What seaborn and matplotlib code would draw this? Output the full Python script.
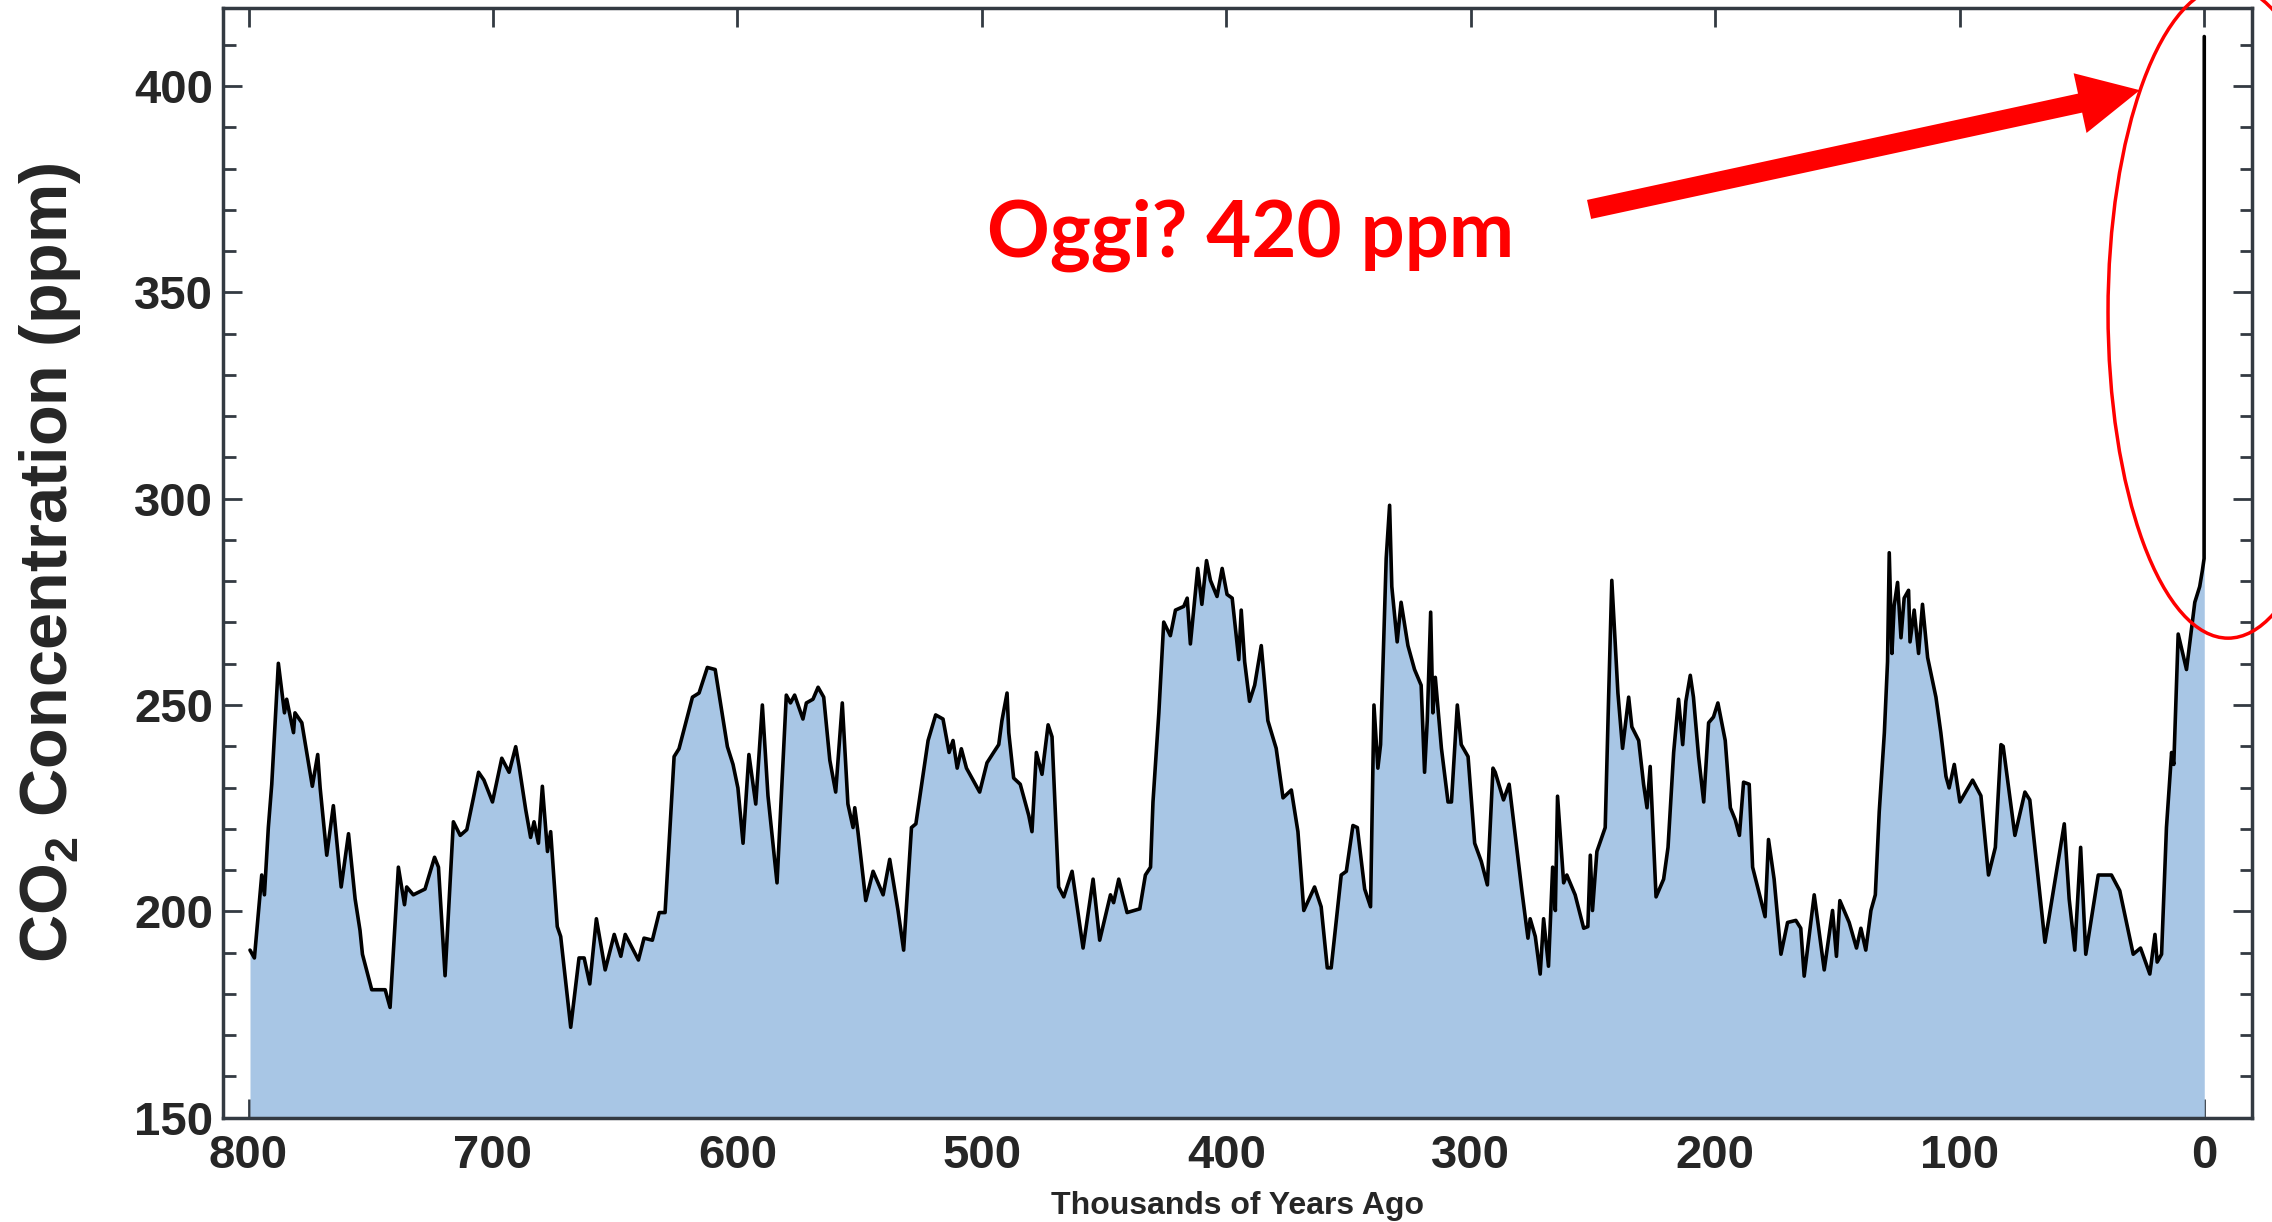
import numpy as np
import matplotlib
matplotlib.use("Agg")
import matplotlib.pyplot as plt
from matplotlib.patches import Ellipse
from matplotlib.ticker import MultipleLocator
import seaborn as sns

# ice core CO2 record (thousands of years ago, ppm)
years_ago = [
    799.4, 797.6, 794.6, 793.5, 791.9, 790.5, 787.8, 785.3, 784.4, 781.6, 781.0, 778.2, 776.2, 773.9,
    771.7, 770.7, 768.0, 765.3, 762.1, 759.1, 756.4, 754.4, 753.4, 749.6, 744.1, 742.1, 738.7, 736.2,
    735.3, 732.6, 727.8, 723.9, 722.3, 719.6, 716.2, 713.4, 710.7, 708.0, 705.9,
    703.7, 700.2, 696.4, 693.4, 690.7, 689.3, 686.6, 684.6, 683.2, 681.4, 679.8, 677.7, 676.4, 673.7,
    672.3, 668.2, 664.8, 662.7, 660.4, 657.7, 654.1, 650.4, 647.7, 645.9, 640.5, 638.2, 634.8, 632.0,
    629.6, 625.9, 623.9, 618.4, 615.7, 612.3, 609.1, 604.1,
    601.8, 599.8, 597.7, 595.3, 592.5, 589.8, 587.5, 583.8, 580.0, 578.3, 576.6, 573.2, 571.8, 569.1,
    567.0, 564.7, 562.2, 559.8, 557.1, 554.8, 552.7, 552.0, 550.7, 547.5, 544.5, 540.4, 537.7, 534.3,
    532.0, 528.8, 527.0, 522.0, 518.9, 515.9, 513.4, 511.8, 510.1, 508.4, 506.3, 500.9,
    497.9, 495.2, 493.1, 491.8, 489.7, 489.0, 487.0, 484.3, 480.8, 479.5, 477.7, 475.4, 472.9, 471.3,
    468.6, 466.5, 463.1, 458.6, 454.5, 451.8, 447.4, 446.1, 444.0, 440.6, 435.4, 433.1, 431.0, 430.0,
    427.6, 425.6, 422.9, 420.8, 417.4, 416.0, 414.7, 411.7, 410.0, 408.1, 406.5, 403.8, 401.7, 399.7,
    397.6, 394.9,
    393.9, 392.5, 390.5, 388.4, 385.7, 383.0, 379.6, 376.8, 373.4, 370.7, 368.3, 363.9, 361.2, 358.7,
    357.1, 353.0, 350.9, 348.2, 346.4, 343.4, 341.0, 339.6, 338.0, 336.9, 334.6, 333.2, 332.3, 330.1,
    328.5, 325.7, 323.0, 320.3, 318.9, 317.8, 316.4, 315.5, 314.5, 312.0, 309.3, 307.9, 305.5, 303.9,
    301.1, 298.4, 295.7, 293.2, 290.9,
    290.0, 286.6, 284.3, 279.1, 276.6, 275.7, 273.6, 271.6, 270.2, 268.2, 266.5, 265.4, 264.5, 262.0,
    260.7, 257.3, 253.8, 252.1, 251.1, 250.2, 248.4, 245.0, 243.6, 242.3, 239.8, 237.9, 235.4, 234.1,
    231.3, 229.3, 227.9, 226.6, 224.2, 221.1, 219.3, 217.0, 215.0, 213.3, 212.0, 210.2, 208.9, 206.8,
    204.7, 202.7, 200.7, 198.9, 195.9, 193.8, 191.8, 190.1, 188.4,
    186.1, 184.7, 179.6, 178.2, 175.9, 173.1, 170.4, 167.0, 165.0, 163.6, 159.5, 155.4, 152.0, 150.4,
    149.0, 145.2, 142.2, 140.4, 138.4, 136.3, 134.5, 132.9, 130.8, 129.5, 128.8, 127.7, 126.8, 125.4,
    124.0, 122.7, 120.9, 120.3, 118.6, 116.8, 115.2, 113.1, 109.7, 107.7, 105.6, 104.3, 102.2, 99.9,
    94.7, 91.3, 88.2, 85.4, 83.1,
    82.2, 80.8, 77.4, 73.3, 71.3, 65.1, 57.2, 55.2, 52.9, 50.5, 48.4, 43.3, 37.9, 34.5,
    29.0, 26.0, 22.2, 20.1, 19.2, 17.4, 15.4, 13.3, 12.4, 10.6, 7.2, 3.8, 1.8, 0.7, 0.0, -0.07,
]
co2 = [
    190.6, 188.7, 208.8, 204.0, 220.3, 230.8, 260.1, 248.1, 251.4, 243.3, 248.1, 245.7, 238.5, 230.3,
    238.0, 229.9, 213.6, 225.6, 205.9, 218.8, 203.0, 195.4, 189.6, 181.0, 181.0, 176.7, 210.7, 201.6,
    205.9, 204.0, 205.4, 213.1, 210.7, 184.4, 221.7, 218.4, 219.8, 227.5, 233.7,
    231.8, 226.5, 237.1, 233.7, 239.9, 235.1, 224.6, 217.9, 221.7, 216.5, 230.3, 214.5, 219.3, 196.3,
    193.9, 171.9, 188.7, 188.7, 182.4, 198.2, 185.8, 194.4, 189.1, 194.4, 188.2, 193.5, 193.0, 199.7,
    199.7, 237.5, 239.4, 251.9, 252.9, 259.1, 258.6, 239.9,
    235.6, 229.9, 216.5, 238.0, 226.0, 250.0, 228.0, 206.9, 252.4, 250.5, 252.4, 246.6, 250.5, 251.4,
    254.3, 251.9, 236.6, 228.9, 250.5, 226.0, 220.3, 225.1, 219.3, 202.6, 209.7, 204.0, 212.6, 200.2,
    190.6, 220.3, 221.2, 241.4, 247.6, 246.6, 238.5, 241.4, 234.7, 239.4, 234.7, 228.9,
    236.0, 238.5, 240.4, 246.2, 252.9, 243.3, 232.3, 230.8, 223.2, 219.3, 238.5, 233.2, 245.2, 242.3,
    205.9, 203.5, 209.7, 191.1, 207.8, 193.0, 204.0, 202.1, 207.8, 199.7, 200.6, 208.8, 210.7, 226.5,
    248.1, 270.1, 266.8, 273.0, 273.9, 275.9, 264.8, 283.1, 274.4, 285.0, 280.2, 276.3, 283.1, 276.8,
    275.9, 261.0,
    273.0, 260.5, 250.9, 254.8, 264.4, 246.2, 239.5, 227.5, 229.4, 219.3, 200.2, 205.9, 201.1, 186.3,
    186.3, 208.8, 209.7, 220.8, 220.3, 205.4, 201.1, 250.0, 234.7, 240.4, 285.5, 298.4, 278.7, 265.3,
    274.9, 264.4, 258.6, 254.8, 233.7, 246.2, 272.5, 248.1, 256.7, 239.5, 226.5, 226.5, 250.0, 240.4,
    237.5, 216.5, 212.1, 206.4, 234.7,
    233.7, 227.0, 230.8, 205.0, 193.5, 198.2, 193.9, 184.8, 198.2, 186.7, 210.7, 200.2, 227.9, 206.9,
    208.8, 204.0, 195.9, 196.3, 213.6, 200.2, 214.5, 220.3, 251.9, 280.2, 252.9, 239.5, 251.9, 244.7,
    241.4, 230.8, 225.1, 235.1, 203.5, 207.8, 215.5, 238.5, 251.4, 240.4, 250.9, 257.2, 251.9, 237.5,
    226.5, 245.7, 247.1, 250.5, 241.4, 225.1, 222.2, 218.4, 231.3,
    230.8, 210.7, 198.7, 217.4, 207.8, 189.6, 197.3, 197.8, 195.9, 184.3, 204.0, 185.8, 200.2, 189.1,
    202.6, 197.3, 191.1, 195.9, 190.6, 200.2, 204.0, 224.1, 243.3, 260.5, 286.9, 262.5, 274.0, 279.7,
    266.3, 275.9, 277.8, 265.3, 273.0, 262.5, 274.4, 261.5, 251.9, 243.3, 232.7, 229.9, 235.6, 226.5,
    231.8, 228.0, 208.8, 215.5, 240.4,
    240.0, 233.7, 218.4, 228.9, 227.0, 192.5, 221.2, 203.0, 190.6, 215.5, 189.6, 208.8, 208.8, 205.0,
    189.6, 191.1, 184.8, 194.4, 187.7, 189.6, 220.3, 238.5, 235.6, 267.2, 258.6, 274.9, 278.7, 282.6,
    285.5, 412.0,
]

x_ticks = [800, 700, 600, 500, 400, 300, 200, 100, 0]
y_ticks = [150, 200, 250, 300, 350, 400]

sns.set_theme(style="ticks")
plt.rcParams['font.family'] = ['Liberation Sans', 'DejaVu Sans']
plt.rcParams['font.weight'] = 'bold'
plt.rcParams['mathtext.fontset'] = 'custom'
plt.rcParams['mathtext.rm'] = 'Liberation Sans:bold'
plt.rcParams['mathtext.bf'] = 'Liberation Sans:bold'

fig = plt.figure(figsize=(22.72, 12.22), dpi=100)
ax = fig.add_axes([0.0982, 0.0854, 0.8930, 0.9080])

ax.fill_between(years_ago, co2, 150, color='#a8c6e5', linewidth=0, zorder=1)
sns.lineplot(x=years_ago, y=co2, color='black', linewidth=2.6, ax=ax, zorder=2)

ax.set_xlim(810.4, -19.6)
ax.set_ylim(150, 418.9)
ax.set_xticks(x_ticks)
ax.set_yticks(y_ticks)
ax.yaxis.set_minor_locator(MultipleLocator(10))

for side in ['top', 'bottom', 'left', 'right']:
    ax.spines[side].set_visible(True)
    ax.spines[side].set_color('#333a42')
    ax.spines[side].set_linewidth(2.5)
    ax.spines[side].set_zorder(5)

ax.tick_params(axis='both', which='both', direction='in', top=True, right=True,
               color='#333a42', width=2)
ax.tick_params(axis='both', which='major', length=14, labelsize=34)
ax.tick_params(axis='y', which='minor', length=9)
ax.tick_params(axis='x', which='major', pad=12)
ax.tick_params(axis='y', which='major', pad=7)
for lab in ax.get_xticklabels() + ax.get_yticklabels():
    lab.set_fontweight('bold')

ax.set_xlabel('Thousands of Years Ago', fontsize=23, fontweight='bold')
ax.xaxis.set_label_coords(0.5, -0.066)
ax.set_ylabel(r'CO$_\mathbf{2}$ Concentration (ppm)', fontsize=48, fontweight='bold')
ax.yaxis.set_label_coords(-0.069, 0.5)

# annotation: today's value
ax.text(497.8, 358.6, 'Oggi? 420 ppm', color='red', fontsize=56, fontweight='bold',
        family=['Lato', 'DejaVu Sans'], ha='left', va='baseline', zorder=6)
ax.annotate('', xy=(26.3, 399.0), xytext=(251.6, 370.1),
            arrowprops=dict(facecolor='red', edgecolor='none', width=14,
                            headwidth=44, headlength=44, shrink=0),
            zorder=6)
ax.add_patch(Ellipse((-9.8, 345.2), width=98.2, height=158, fill=False,
                     edgecolor='red', linewidth=2.5, clip_on=False, zorder=6))

fig.savefig('out.png', dpi=100)
